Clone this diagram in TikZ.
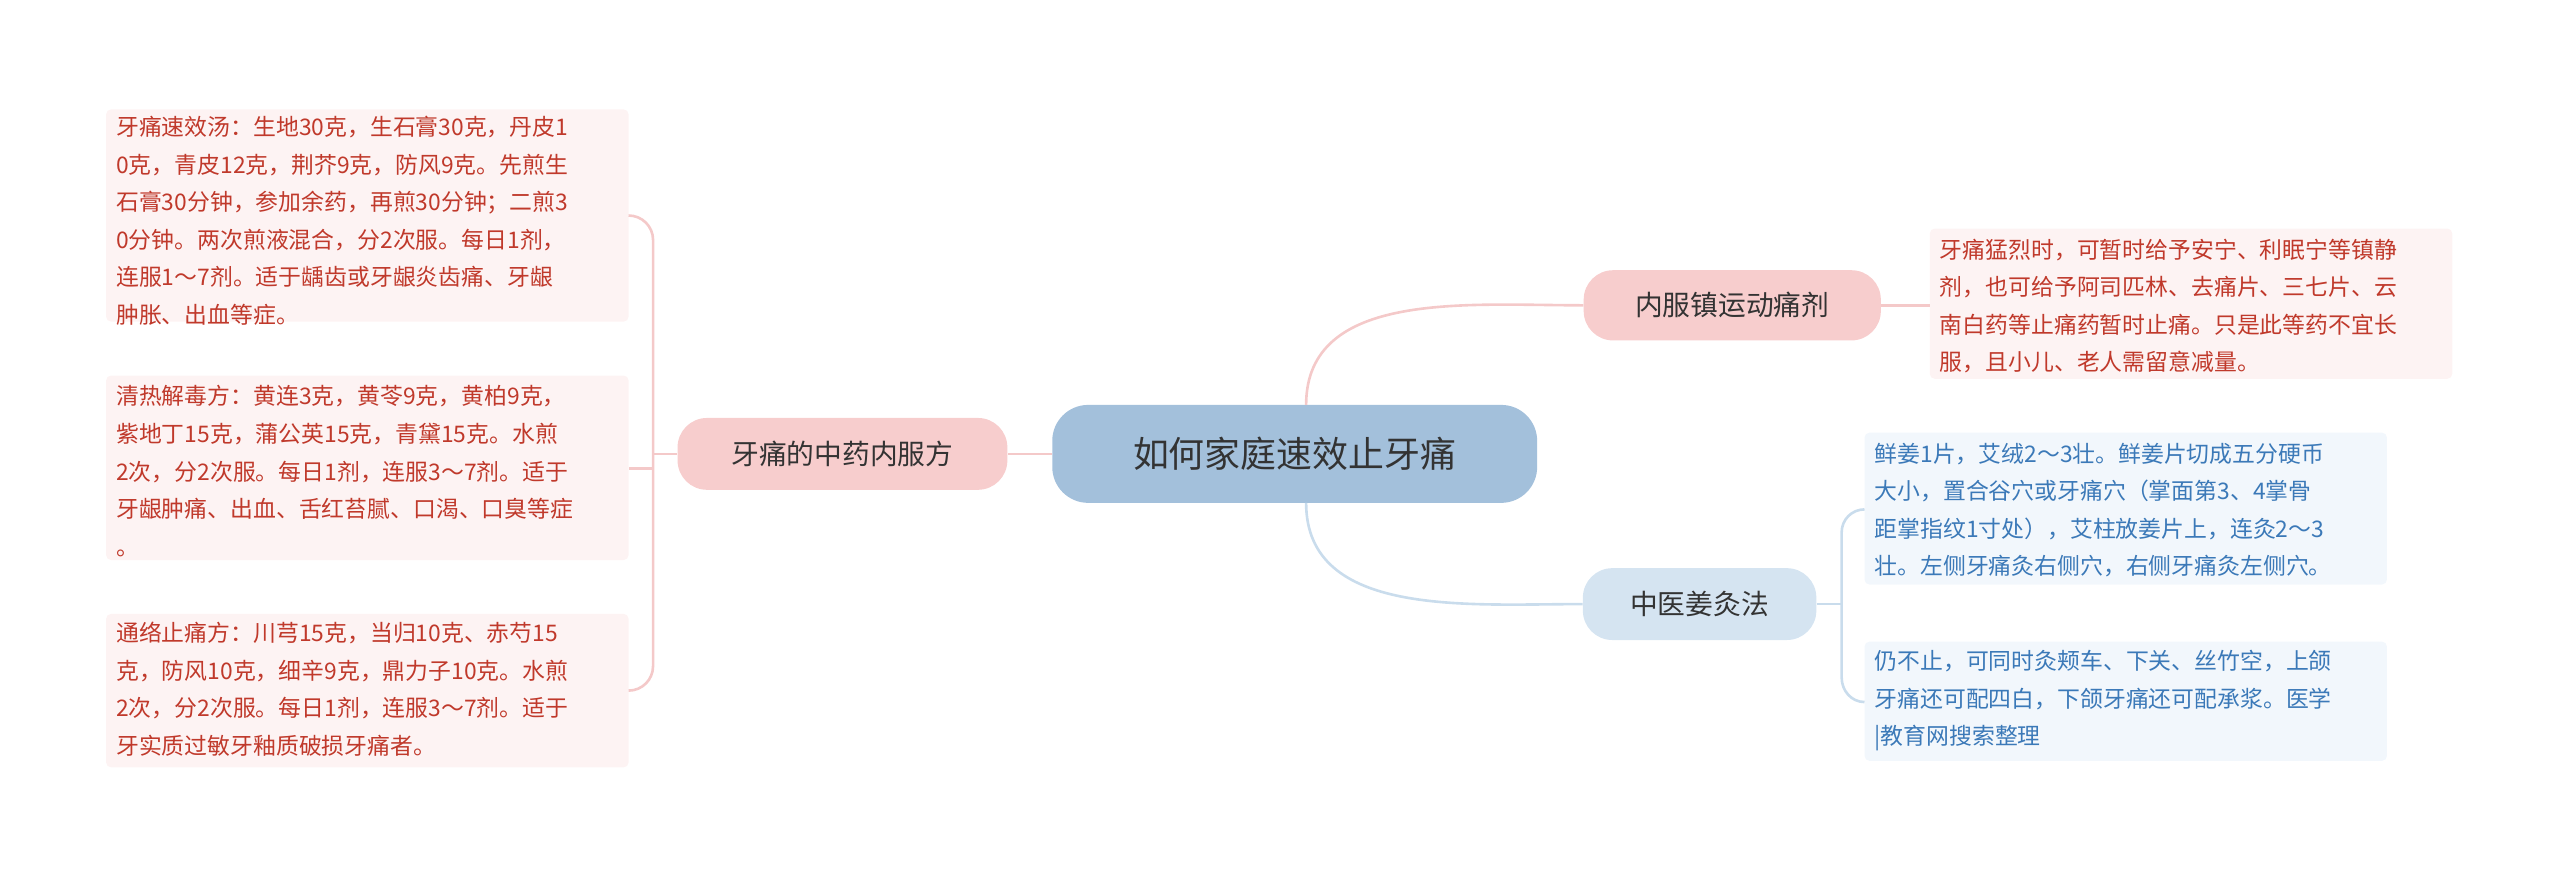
\documentclass[tikz,border=0pt]{standalone}
\usepackage{fontspec}
\setmainfont{Noto Sans CJK SC}
\definecolor{cblue}{HTML}{A3C0DB}
\definecolor{bbox}{HTML}{D5E4F1}
\definecolor{bline}{HTML}{C9DCEC}
\definecolor{bleaf}{HTML}{F2F7FC}
\definecolor{btext}{HTML}{3B79B8}
\definecolor{pbox}{HTML}{F7CDCD}
\definecolor{pline}{HTML}{F4C9C9}
\definecolor{pleaf}{HTML}{FDF3F3}
\definecolor{ptext}{HTML}{C0392B}
\begin{document}
\begin{tikzpicture}[x=1pt,y=-1pt,
  leafbox/.style={rounded corners=3pt,align=left,anchor=north west,inner sep=0pt,font=\fontsize{14}{23}\selectfont},
  pinkleaf/.style={leafbox,text=ptext},
  blueleaf/.style={leafbox,text=btext},
  pinkline/.style={draw=pline,line width=1.6pt},
  blueline/.style={draw=bline,line width=1.6pt}]
\useasboundingbox (0,0) rectangle (1568,536);
\fill[pleaf,rounded corners=3pt] (65,67) rectangle (385,197);
\fill[pleaf,rounded corners=3pt] (65,230) rectangle (385,343);
\fill[pleaf,rounded corners=3pt] (65,376) rectangle (385,470);
\fill[pleaf,rounded corners=3pt] (1182,140) rectangle (1502,232);
\fill[bleaf,rounded corners=3pt] (1142,265) rectangle (1462,358);
\fill[bleaf,rounded corners=3pt] (1142,393) rectangle (1462,466);
\node[pinkleaf] (l1) at (71,71) {牙痛速效汤：生地30克，生石膏30克，丹皮1\\0克，青皮12克，荆芥9克，防风9克。先煎生\\石膏30分钟，参加余药，再煎30分钟；二煎3\\0分钟。两次煎液混合，分2次服。每日1剂，\\连服1～7剂。适于龋齿或牙龈炎齿痛、牙龈\\肿胀、出血等症。};
\node[pinkleaf] (l2) at (71,236) {清热解毒方：黄连3克，黄苓9克，黄柏9克，\\紫地丁15克，蒲公英15克，青黛15克。水煎\\2次，分2次服。每日1剂，连服3～7剂。适于\\牙龈肿痛、出血、舌红苔腻、口渴、口臭等症\\。};
\node[pinkleaf] (l3) at (71,381) {通络止痛方：川芎15克，当归10克、赤芍15\\克，防风10克，细辛9克，鼎力子10克。水煎\\2次，分2次服。每日1剂，连服3～7剂。适于\\牙实质过敏牙釉质破损牙痛者。};
\node[pinkleaf] (r1) at (1188,146) {牙痛猛烈时，可暂时给予安宁、利眠宁等镇静\\剂，也可给予阿司匹林、去痛片、三七片、云\\南白药等止痛药暂时止痛。只是此等药不宜长\\服，且小儿、老人需留意减量。};
\node[blueleaf] (b1) at (1148,271) {鲜姜1片，艾绒2～3壮。鲜姜片切成五分硬币\\大小，置合谷穴或牙痛穴（掌面第3、4掌骨\\距掌指纹1寸处），艾柱放姜片上，连灸2～3\\壮。左侧牙痛灸右侧穴，右侧牙痛灸左侧穴。};
\node[blueleaf] (b2) at (1148,398) {仍不止，可同时灸颊车、下关、丝竹空，上颌\\牙痛还可配四白，下颌牙痛还可配承浆。医学\\|教育网搜索整理};
\node[fill=cblue,rounded corners=22pt,minimum width=297pt,minimum height=60pt,font=\fontsize{22}{26}\selectfont,text=black!80] (c) at (793,278) {如何家庭速效止牙痛};
\node[fill=pbox,rounded corners=18pt,minimum width=202pt,minimum height=44pt,font=\fontsize{17}{20}\selectfont,text=black!80] (lb) at (516,278) {牙痛的中药内服方};
\node[fill=pbox,rounded corners=18pt,minimum width=182pt,minimum height=43pt,font=\fontsize{17}{20}\selectfont,text=black!80] (ru) at (1061,187) {内服镇运动痛剂};
\node[fill=bbox,rounded corners=18pt,minimum width=143pt,minimum height=44pt,font=\fontsize{17}{20}\selectfont,text=black!80] (rd) at (1041,370) {中医姜灸法};
\draw[pinkline] (c.west) -- (lb.east);
\draw[pinkline] (lb.west) -- (400,278);
\draw[pinkline] (400,278) -- (400,147) to[out=90,in=0] (385,132);
\draw[pinkline] (400,278) -- (400,287) -- (385,287);
\draw[pinkline] (400,278) -- (400,408) to[out=-90,in=0] (385,423);
\draw[pinkline] (800,248) to[out=90,in=180] (ru.west);
\draw[pinkline] (ru.east) -- (1182,187);
\draw[blueline] (800,308) to[out=-90,in=180] (rd.west);
\draw[blueline] (rd.east) -- (1128,370);
\draw[blueline] (1128,370) -- (1128,326) to[out=90,in=180] (1142,312);
\draw[blueline] (1128,370) -- (1128,415) to[out=-90,in=180] (1142,430);
\end{tikzpicture}
\end{document}
